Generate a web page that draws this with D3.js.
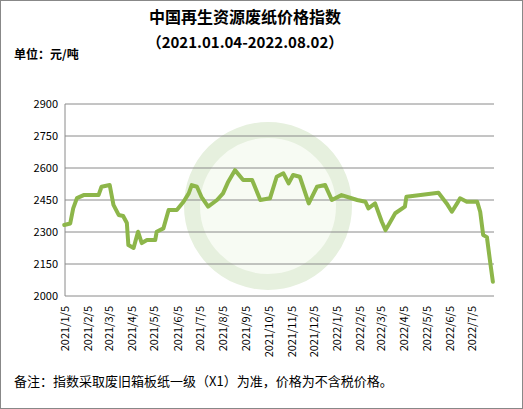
<!DOCTYPE html><html><head><meta charset="utf-8"><script src="https://cdn.jsdelivr.net/npm/d3@7"></script>
<style>body{margin:0;background:#fff}text{font-family:"Noto Sans CJK SC","Noto Sans",sans-serif}</style></head><body>
<svg id="c" width="523" height="409"></svg>
<script>
const dates=["2021-01-04","2021-01-12","2021-01-16","2021-01-21","2021-01-30","2021-02-19","2021-02-23","2021-03-06","2021-03-11","2021-03-18","2021-03-24","2021-03-29","2021-03-31","2021-04-07","2021-04-13","2021-04-18","2021-04-25","2021-05-06","2021-05-08","2021-05-17","2021-05-24","2021-06-04","2021-06-13","2021-06-20","2021-06-24","2021-07-01","2021-07-07","2021-07-16","2021-07-28","2021-08-05","2021-08-12","2021-08-21","2021-09-01","2021-09-13","2021-09-24","2021-10-07","2021-10-16","2021-10-25","2021-11-01","2021-11-07","2021-11-16","2021-11-28","2021-12-09","2021-12-20","2021-12-29","2022-01-11","2022-02-01","2022-02-12","2022-02-16","2022-02-25","2022-03-06","2022-03-11","2022-03-15","2022-03-24","2022-04-06","2022-04-08","2022-04-27","2022-05-21","2022-06-01","2022-06-08","2022-06-15","2022-06-19","2022-06-28","2022-07-12","2022-07-16","2022-07-20","2022-07-25","2022-07-29","2022-08-02"];
const values=[2333,2340,2411,2459,2473,2473,2512,2520,2427,2380,2375,2342,2239,2225,2301,2248,2262,2262,2301,2317,2403,2403,2442,2481,2520,2512,2465,2419,2450,2481,2536,2590,2544,2544,2450,2458,2559,2575,2528,2567,2559,2434,2512,2520,2450,2473,2450,2442,2411,2434,2348,2309,2333,2388,2419,2465,2473,2484,2434,2395,2434,2458,2442,2442,2395,2286,2276,2169,2067];
const yTicks=[2000,2150,2300,2450,2600,2750,2900];
const xTickLabels=["2021/1/5","2021/2/5","2021/3/5","2021/4/5","2021/5/5","2021/6/5","2021/7/5","2021/8/5","2021/9/5","2021/10/5","2021/11/5","2021/12/5","2022/1/5","2022/2/5","2022/3/5","2022/4/5","2022/5/5","2022/6/5","2022/7/5"];
const svg=d3.select("#c");
svg.append("rect").attr("x",0.5).attr("y",0.5).attr("width",522).attr("height",408).attr("fill","#fff").attr("stroke","#888");
const pt=d3.timeParse("%Y-%m-%d"),pl=d3.timeParse("%Y/%m/%d");
const x=d3.scaleTime().domain([pl("2021/1/5"),pl("2022/7/5")]).range([65,472]);
const y=d3.scaleLinear().domain([2000,2900]).range([296,104]);
svg.append("circle").attr("cx",268).attr("cy",206).attr("r",76).attr("fill","#f7fbf3").attr("stroke","#e6f0de").attr("stroke-width",16);
const g=svg.append("g");
g.selectAll(".gl").data(yTicks.slice(1)).join("line").attr("x1",65).attr("x2",494).attr("y1",d=>y(d)).attr("y2",d=>y(d)).attr("stroke","#8a8a8a").attr("stroke-width",1);
g.append("line").attr("x1",65).attr("x2",65).attr("y1",104).attr("y2",296).attr("stroke","#8a8a8a");
g.append("line").attr("x1",65).attr("x2",494).attr("y1",296).attr("y2",296).attr("stroke","#8a8a8a");
g.selectAll(".yl").data(yTicks).join("text").attr("x",58).attr("y",d=>y(d)+4).attr("text-anchor","end").attr("font-size",11).attr("fill","#000").text(d=>d);
g.selectAll(".xl").data(xTickLabels).join("text").attr("transform",d=>`translate(${x(pl(d))+4},306) rotate(-90)`).attr("text-anchor","end").attr("font-size",11).attr("fill","#000").text(d=>d);
const line=d3.line().x((d,i)=>x(pt(dates[i]))).y(d=>y(d)).curve(d3.curveLinear);
g.append("path").datum(values).attr("d",line).attr("fill","none").attr("stroke","#8db64a").attr("stroke-width",4).attr("stroke-linejoin","round").attr("stroke-linecap","round");
svg.append("text").attr("x",245).attr("y",23).attr("text-anchor","middle").attr("font-size",16).attr("font-weight","bold").text("中国再生资源废纸价格指数");
svg.append("text").attr("x",245).attr("y",48).attr("text-anchor","middle").attr("font-size",15).attr("font-weight","bold").text("（2021.01.04-2022.08.02）");
svg.append("text").attr("x",14).attr("y",59).attr("font-size",12).attr("font-weight","bold").text("单位：元/吨");
svg.append("text").attr("x",14).attr("y",386).attr("font-size",13).text("备注：指数采取废旧箱板纸一级（X1）为准，价格为不含税价格。");
</script></body></html>
